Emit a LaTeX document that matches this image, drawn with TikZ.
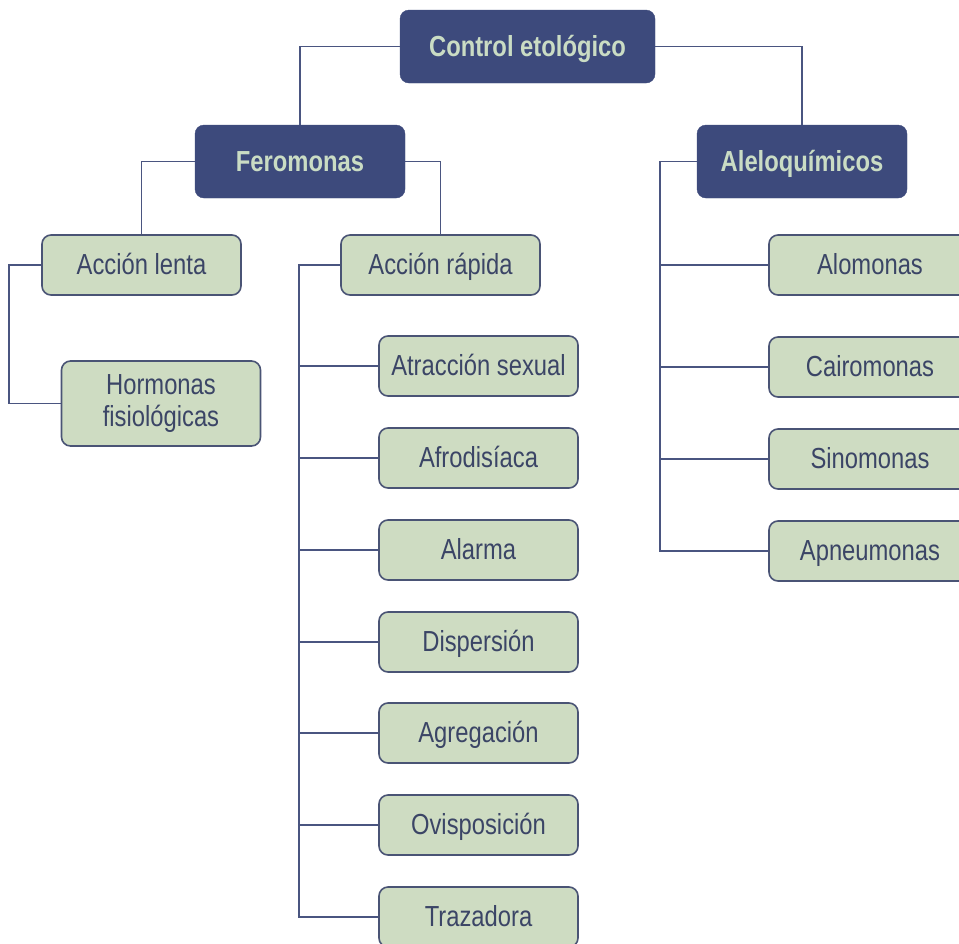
\documentclass[tikz,border=0pt]{standalone}
\usepackage{fontspec}
\setmainfont{Liberation Sans}[FakeStretch=0.82]
\definecolor{navy}{HTML}{3D4A7C}
\definecolor{hdtext}{HTML}{CADCC4}
\definecolor{leaffill}{HTML}{CEDCC2}
\definecolor{leafedge}{HTML}{4A5475}
\definecolor{leaftext}{HTML}{3B4566}
\definecolor{wire}{HTML}{4A5580}
\tikzset{
  hd/.style={rounded corners=9pt, fill=navy, draw=navy, text=hdtext,
    font=\fontsize{29}{32}\selectfont\bfseries, minimum width=210pt, minimum height=73pt,
    inner sep=0pt, text height=24pt, text depth=5pt},
  leaf/.style={rounded corners=9pt, fill=leaffill, draw=leafedge, line width=1.6pt, text=leaftext,
    font=\fontsize{29}{32}\selectfont, minimum width=199pt, minimum height=60pt, inner sep=0pt,
    align=center, text height=24pt, text depth=5pt},
  twoline/.style={text height={}, text depth={}, minimum height=85pt},
  wire/.style={draw=wire, line width=1.8pt}
}
\begin{document}
\begin{tikzpicture}[x=1pt,y=-1pt]
\useasboundingbox (0,0) rectangle (959,943);
\clip (0,0) rectangle (959,943);
\fill[white] (0,0) rectangle (959,943);
% headers
\node[hd, minimum width=255pt] (ctrl) at (527.5,46.5) {Control etológico};
\node[hd] (fer) at (300,161.5) {Feromonas};
\node[hd] (ale) at (802,161.5) {Aleloquímicos};
% feromonas children
\node[leaf] (al) at (141.5,265) {Acción lenta};
\node[leaf, twoline] (hf) at (161,403.5) {Hormonas\\fisiológicas};
\node[leaf] (ar) at (440.5,265) {Acción rápida};
\node[leaf] (c1) at (478.5,366) {Atracción sexual};
\node[leaf] (c2) at (478.5,458) {Afrodisíaca};
\node[leaf] (c3) at (478.5,550) {Alarma};
\node[leaf] (c4) at (478.5,642) {Dispersión};
\node[leaf] (c5) at (478.5,733) {Agregación};
\node[leaf] (c6) at (478.5,825) {Ovisposición};
\node[leaf] (c7) at (478.5,917) {Trazadora};
% aleloquimicos children
\node[leaf, minimum width=202pt] (a1) at (870,265) {Alomonas};
\node[leaf, minimum width=202pt] (a2) at (870,367) {Cairomonas};
\node[leaf, minimum width=202pt] (a3) at (870,459) {Sinomonas};
\node[leaf, minimum width=202pt] (a4) at (870,551) {Apneumonas};
% connectors
\draw[wire] (ctrl.west) -| (fer.north);
\draw[wire] (ctrl.east) -| (ale.north);
\draw[wire] (fer.west) -| (al.north);
\draw[wire] (fer.east) -| (ar.north);
\draw[wire] (al.west) -- ++(-32,0) coordinate (alx) |- (hf.west);
\draw[wire] (ar.west) -- ++(-41,0) coordinate (arx) |- (c7.west);
\foreach \c in {c1,c2,c3,c4,c5,c6}{\draw[wire] (arx |- \c.west) -- (\c.west);}
\draw[wire] (ale.west) -- ++(-37,0) coordinate (alex) |- (a4.west);
\foreach \c in {a1,a2,a3}{\draw[wire] (alex |- \c.west) -- (\c.west);}
\end{tikzpicture}
\end{document}
